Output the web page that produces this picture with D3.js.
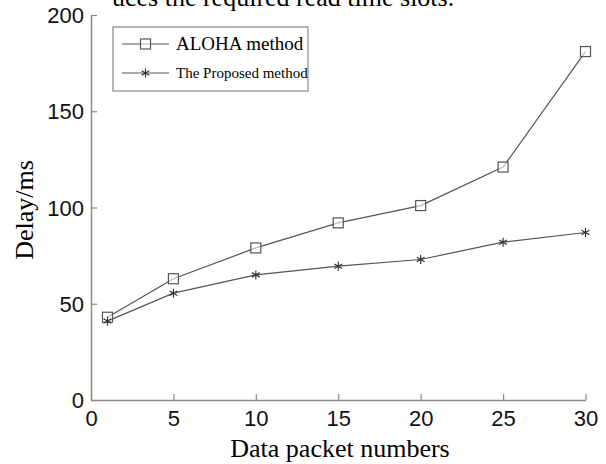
<!DOCTYPE html>
<html lang="en">
<head>
	<meta charset="UTF-8">
	<title>Delay vs packets</title>
	<script src="https://cdn.jsdelivr.net/npm/d3@7"></script>
	<style>
		body { margin: 0; background: #fff; }
	</style>
</head>
<body>
	<div id="container"></div>
	<script>
		var packets = [1, 5, 10, 15, 20, 25, 30];
		var aloha = [43, 63, 79, 92, 101, 121, 181];
		var proposed = [41, 55.5, 65, 69.5, 73, 82, 87];
		var xTicks = [0, 5, 10, 15, 20, 25, 30];
		var yTicks = [0, 50, 100, 150, 200];

		width = 606;
		height = 464;
		var svg = d3.select("#container").append("svg")
				.attr("width", width)
				.attr("height", height);

		var x = d3.scaleLinear().domain([0, 30]).range([91, 585.5]);
		var y = d3.scaleLinear().domain([0, 200]).range([400, 15]);

		var axisColor = "#8a8a8a";
		var lineColor = "#555";
		var serif = "'Liberation Serif', 'Times New Roman', serif";

		// clipped caption from the page above
		svg.append("text")
				.attr("x", 112).attr("y", 6)
				.style("font-family", serif)
				.style("font-size", "26px")
				.text("uces the required read time slots.");

		// axes
		var xAxis = svg.append("g")
				.attr("transform", "translate(0," + y(0) + ")")
				.call(d3.axisBottom(x).tickValues(xTicks).tickSizeInner(-6).tickSizeOuter(0).tickPadding(6));
		var yAxis = svg.append("g")
				.attr("transform", "translate(" + x(0) + ",0)")
				.call(d3.axisLeft(y).tickValues(yTicks).tickSizeInner(-6).tickSizeOuter(0).tickPadding(7));

		[xAxis, yAxis].forEach(function(g) {
			g.select(".domain").attr("stroke", axisColor).attr("stroke-width", 1.5);
			g.selectAll(".tick line").attr("stroke", axisColor).attr("stroke-width", 1.2);
			g.selectAll(".tick text")
				.attr("fill", "#111")
				.style("font-family", "'Liberation Sans', Arial, sans-serif")
				.style("font-size", "22px");
		});
		xAxis.selectAll(".tick text").attr("dy", "0.9em");
		yAxis.selectAll(".tick text").attr("dy", "0.35em");

		// axis titles
		svg.append("text")
				.attr("x", 340).attr("y", 457)
				.attr("text-anchor", "middle")
				.style("font-family", serif)
				.style("font-size", "26px")
				.text("Data packet numbers");
		svg.append("text")
				.attr("transform", "translate(33,210) rotate(-90)")
				.attr("text-anchor", "middle")
				.style("font-family", serif)
				.style("font-size", "26px")
				.text("Delay/ms");

		var line = d3.line()
				.x(function(d) { return x(d[0]); })
				.y(function(d) { return y(d[1]); });

		var alohaPts = packets.map(function(p, i) { return [p, aloha[i]]; });
		var propPts = packets.map(function(p, i) { return [p, proposed[i]]; });

		svg.append("path").datum(alohaPts)
				.attr("d", line).attr("fill", "none")
				.attr("stroke", lineColor).attr("stroke-width", 1.2);
		svg.append("path").datum(propPts)
				.attr("d", line).attr("fill", "none")
				.attr("stroke", lineColor).attr("stroke-width", 1.2);

		function square(g, cx, cy) {
			g.append("rect")
				.attr("x", cx - 5).attr("y", cy - 5)
				.attr("width", 10).attr("height", 10)
				.attr("fill", "#fff").attr("fill-opacity", 0.6)
				.attr("stroke", "#555").attr("stroke-width", 1.2);
		}
		function star(g, cx, cy) {
			var r = 4.5;
			[0, 60, 120].forEach(function(a) {
				var t = a * Math.PI / 180;
				g.append("line")
					.attr("x1", cx - r * Math.sin(t)).attr("y1", cy - r * Math.cos(t))
					.attr("x2", cx + r * Math.sin(t)).attr("y2", cy + r * Math.cos(t))
					.attr("stroke", "#333").attr("stroke-width", 1.2);
			});
		}

		var marks = svg.append("g");
		alohaPts.forEach(function(d) { square(marks, x(d[0]), y(d[1])); });
		propPts.forEach(function(d) { star(marks, x(d[0]), y(d[1])); });

		// legend
		var leg = svg.append("g");
		leg.append("rect")
				.attr("x", 113).attr("y", 27)
				.attr("width", 195).attr("height", 64)
				.attr("fill", "#fff").attr("stroke", axisColor).attr("stroke-width", 1.2);
		leg.append("line").attr("x1", 122).attr("x2", 169).attr("y1", 44).attr("y2", 44)
				.attr("stroke", lineColor).attr("stroke-width", 1.2);
		square(leg, 145.5, 44);
		leg.append("line").attr("x1", 122).attr("x2", 169).attr("y1", 73).attr("y2", 73)
				.attr("stroke", lineColor).attr("stroke-width", 1.2);
		star(leg, 145.5, 73);
		leg.append("text").attr("x", 176).attr("y", 50)
				.style("font-family", serif)
				.style("font-size", "19px")
				.text("ALOHA method");
		leg.append("text").attr("x", 176).attr("y", 78)
				.style("font-family", serif)
				.style("font-size", "15px")
				.text("The Proposed method");
	</script>
</body>
</html>
